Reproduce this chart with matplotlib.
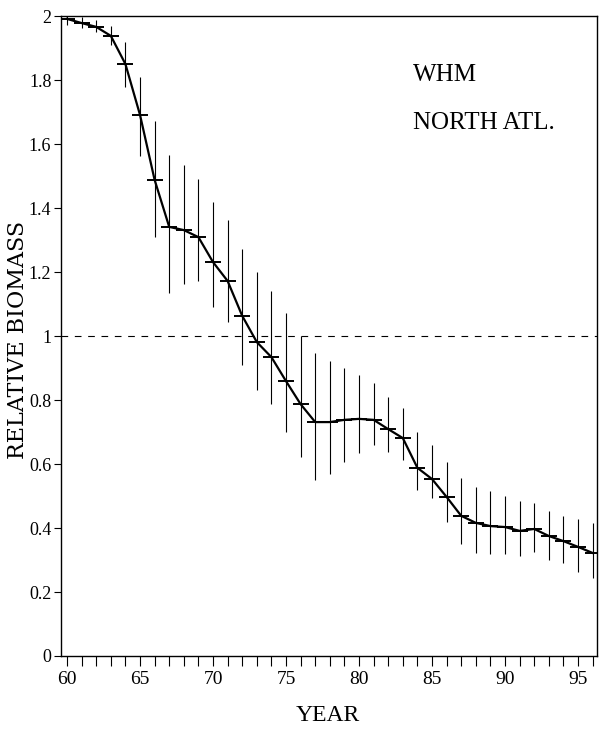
import numpy as np
import matplotlib
matplotlib.use("Agg")
import matplotlib.pyplot as plt

years = list(range(60, 97))
biomass = [1.991, 1.978, 1.966, 1.938, 1.850, 1.691, 1.488, 1.341, 1.331, 1.309,
           1.231, 1.172, 1.063, 0.981, 0.934, 0.859, 0.787, 0.731, 0.731, 0.738,
           0.741, 0.738, 0.709, 0.681, 0.588, 0.553, 0.497, 0.438, 0.416, 0.406,
           0.403, 0.391, 0.397, 0.375, 0.359, 0.341, 0.322]
upper = [2.003, 1.997, 1.988, 1.969, 1.919, 1.809, 1.672, 1.566, 1.534, 1.491,
         1.419, 1.363, 1.272, 1.200, 1.141, 1.072, 1.000, 0.947, 0.922, 0.900,
         0.878, 0.853, 0.809, 0.775, 0.700, 0.659, 0.606, 0.556, 0.528, 0.516,
         0.500, 0.484, 0.478, 0.453, 0.438, 0.428, 0.416]
lower = [1.972, 1.962, 1.950, 1.909, 1.778, 1.563, 1.309, 1.134, 1.162, 1.172,
         1.091, 1.044, 0.909, 0.831, 0.788, 0.700, 0.622, 0.550, 0.569, 0.606,
         0.634, 0.659, 0.638, 0.613, 0.519, 0.494, 0.419, 0.350, 0.322, 0.319,
         0.319, 0.313, 0.325, 0.300, 0.291, 0.263, 0.244]
x_major = [60, 65, 70, 75, 80, 85, 90, 95]
y_ticks = [0, 0.2, 0.4, 0.6, 0.8, 1, 1.2, 1.4, 1.6, 1.8, 2]
y_labels = ["0", "0.2", "0.4", "0.6", "0.8", "1", "1.2", "1.4", "1.6", "1.8", "2"]

SERIF = "Liberation Serif"

b = np.array(biomass)
yerr = [b - np.array(lower), np.array(upper) - b]

fig = plt.figure(figsize=(6.0, 7.31), dpi=100)
ax = fig.add_axes([0.1017, 0.1026, 0.8933, 0.8755])

ax.errorbar(years, b, yerr=yerr, fmt="none", ecolor="black", elinewidth=0.8,
            capsize=0)
ax.plot(years, b, color="black", lw=1.6, marker="_", ms=11, mew=1.4)
ax.axhline(1.0, color="black", lw=0.8, ls=(0, (6, 6)))

ax.set_xlim(59.59, 96.3)
ax.set_ylim(0, 2)
ax.set_xticks(x_major)
ax.set_xticks(years, minor=True)
ax.set_xticklabels([str(v) for v in x_major], fontsize=14, family=SERIF)
ax.set_yticks(y_ticks)
ax.set_yticklabels(y_labels, fontsize=13, family=SERIF)
ax.tick_params(axis="x", which="both", direction="out", length=7, width=0.8, pad=4)
ax.tick_params(axis="y", direction="out", length=5, width=0.8, pad=2)
for s in ax.spines.values():
    s.set_linewidth(1.0)

ax.set_xlabel("YEAR", fontsize=17, family=SERIF)
ax.xaxis.set_label_coords(0.497, -0.077)
ax.set_ylabel("RELATIVE BIOMASS", fontsize=16, family="DejaVu Serif")
ax.yaxis.set_label_coords(-0.060, 0.494)

ax.text(0.657, 0.908, "WHM", transform=ax.transAxes, ha="left", va="center",
        fontsize=18, family=SERIF)
ax.text(0.657, 0.833, "NORTH ATL.", transform=ax.transAxes, ha="left", va="center",
        fontsize=18, family=SERIF)

fig.savefig("out.png", dpi=100)
